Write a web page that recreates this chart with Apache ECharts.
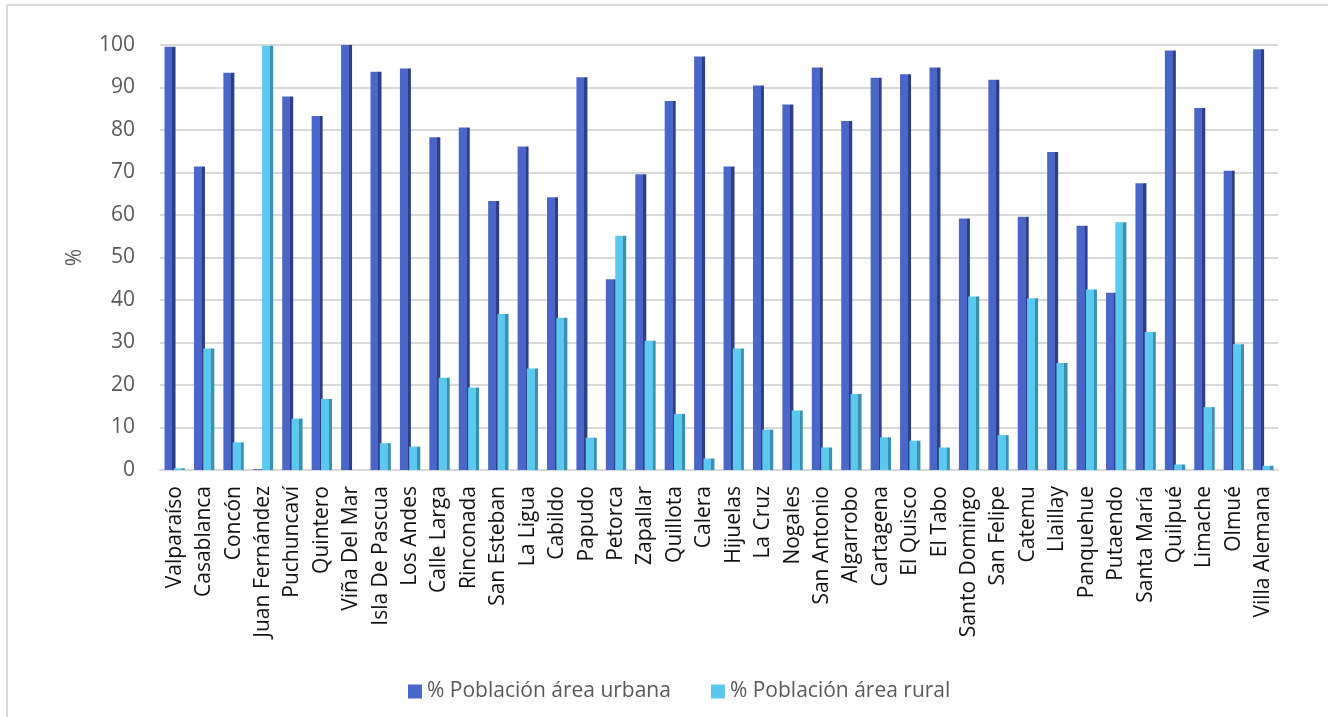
<!DOCTYPE html>
<html>
<head>
<meta charset="utf-8">
<script src="https://cdn.jsdelivr.net/npm/echarts@6/dist/echarts.min.js"></script>
<style>
  html, body { margin: 0; padding: 0; background: #fff; }
  #main { width: 1328px; height: 717px; }
</style>
</head>
<body>
<div id="main"></div>
<script>
// comunas
var comunas = ['Valparaíso', 'Casablanca', 'Concón', 'Juan Fernández', 'Puchuncaví', 'Quintero',
  'Viña Del Mar', 'Isla De Pascua', 'Los Andes', 'Calle Larga', 'Rinconada', 'San Esteban',
  'La Ligua', 'Cabildo', 'Papudo', 'Petorca', 'Zapallar', 'Quillota', 'Calera', 'Hijuelas',
  'La Cruz', 'Nogales', 'San Antonio', 'Algarrobo', 'Cartagena', 'El Quisco', 'El Tabo',
  'Santo Domingo', 'San Felipe', 'Catemu', 'Llaillay', 'Panquehue', 'Putaendo', 'Santa María',
  'Quilpué', 'Limache', 'Olmué', 'Villa Alemana'];
// % poblacion urbana
var urbana = [99.6, 71.4, 93.5, 0.2, 87.9, 83.3, 100, 93.7, 94.5, 78.3, 80.6, 63.3,
  76.1, 64.2, 92.4, 44.9, 69.6, 86.8, 97.3, 71.4, 90.5, 86.0, 94.7, 82.1, 92.3, 93.1, 94.7,
  59.2, 91.8, 59.6, 74.8, 57.5, 41.7, 67.5, 98.7, 85.2, 70.4, 99.0];
// % poblacion rural
var rural = [0.4, 28.6, 6.5, 99.8, 12.1, 16.7, 0, 6.3, 5.5, 21.7, 19.4, 36.7,
  23.9, 35.8, 7.6, 55.1, 30.4, 13.2, 2.7, 28.6, 9.5, 14.0, 5.3, 17.9, 7.7, 6.9, 5.3,
  40.8, 8.2, 40.4, 25.2, 42.5, 58.3, 32.5, 1.3, 14.8, 29.6, 1.0];
var serieNames = ['% Población área urbana', '% Población área rural'];
var yTicks = [0, 100, 10]; // min, max, interval

// barra con cara lateral oscura (imita el 3D)
function barColor(front, side) {
  return new echarts.graphic.LinearGradient(0, 0, 1, 0, [
    { offset: 0, color: front },
    { offset: 0.72, color: front },
    { offset: 0.72, color: side },
    { offset: 1, color: side }
  ]);
}

var chart = echarts.init(document.getElementById('main'), null, { renderer: 'canvas' });
var fuente = '"Open Sans", "DejaVu Sans", sans-serif';

var option = {
  animation: false,
  backgroundColor: '#fff',
  textStyle: { fontFamily: fuente },
  graphic: [
    { type: 'line', shape: { x1: 7, y1: 5, x2: 1328, y2: 5 }, style: { stroke: '#D9D9D9', lineWidth: 2 } },
    { type: 'line', shape: { x1: 7, y1: 5, x2: 7, y2: 717 }, style: { stroke: '#D9D9D9', lineWidth: 2 } }
  ],
  legend: {
    top: 676,
    left: 403,
    itemWidth: 14,
    itemHeight: 14,
    itemGap: 40,
    icon: 'rect',
    textStyle: { fontSize: 21, color: '#595959', fontFamily: fuente },
    data: [
      { name: serieNames[0], itemStyle: { color: '#4A66C8' } },
      { name: serieNames[1], itemStyle: { color: '#5BC8F0' } }
    ]
  },
  grid: {
    left: 160,
    right: 50,
    top: 45,
    bottom: 247
  },
  xAxis: {
    type: 'category',
    data: comunas,
    axisTick: { show: false },
    axisLine: { lineStyle: { color: '#D9D9D9', width: 2 } },
    axisLabel: {
      rotate: 90,
      interval: 0,
      margin: 16,
      fontSize: 21,
      color: '#111',
      fontFamily: fuente
    }
  },
  yAxis: {
    type: 'value',
    min: yTicks[0],
    max: yTicks[1],
    interval: yTicks[2],
    name: '%',
    nameLocation: 'middle',
    nameGap: 74,
    nameRotate: 90,
    nameTextStyle: { fontSize: 21, color: '#595959', fontFamily: fuente },
    axisLine: { show: false },
    axisTick: { show: false },
    axisLabel: { fontSize: 21, color: '#595959', margin: 25, fontFamily: fuente },
    splitLine: { lineStyle: { color: '#D9D9D9', width: 2 } }
  },
  series: [
    {
      name: serieNames[0],
      type: 'bar',
      data: urbana,
      barWidth: 11,
      barGap: '-15%',
      itemStyle: { color: barColor('#4A66C8', '#2E3F85') }
    },
    {
      name: serieNames[1],
      type: 'bar',
      data: rural,
      barWidth: 11,
      itemStyle: { color: barColor('#5BC8F0', '#3A90AE') }
    }
  ]
};
chart.setOption(option);
</script>
</body>
</html>
